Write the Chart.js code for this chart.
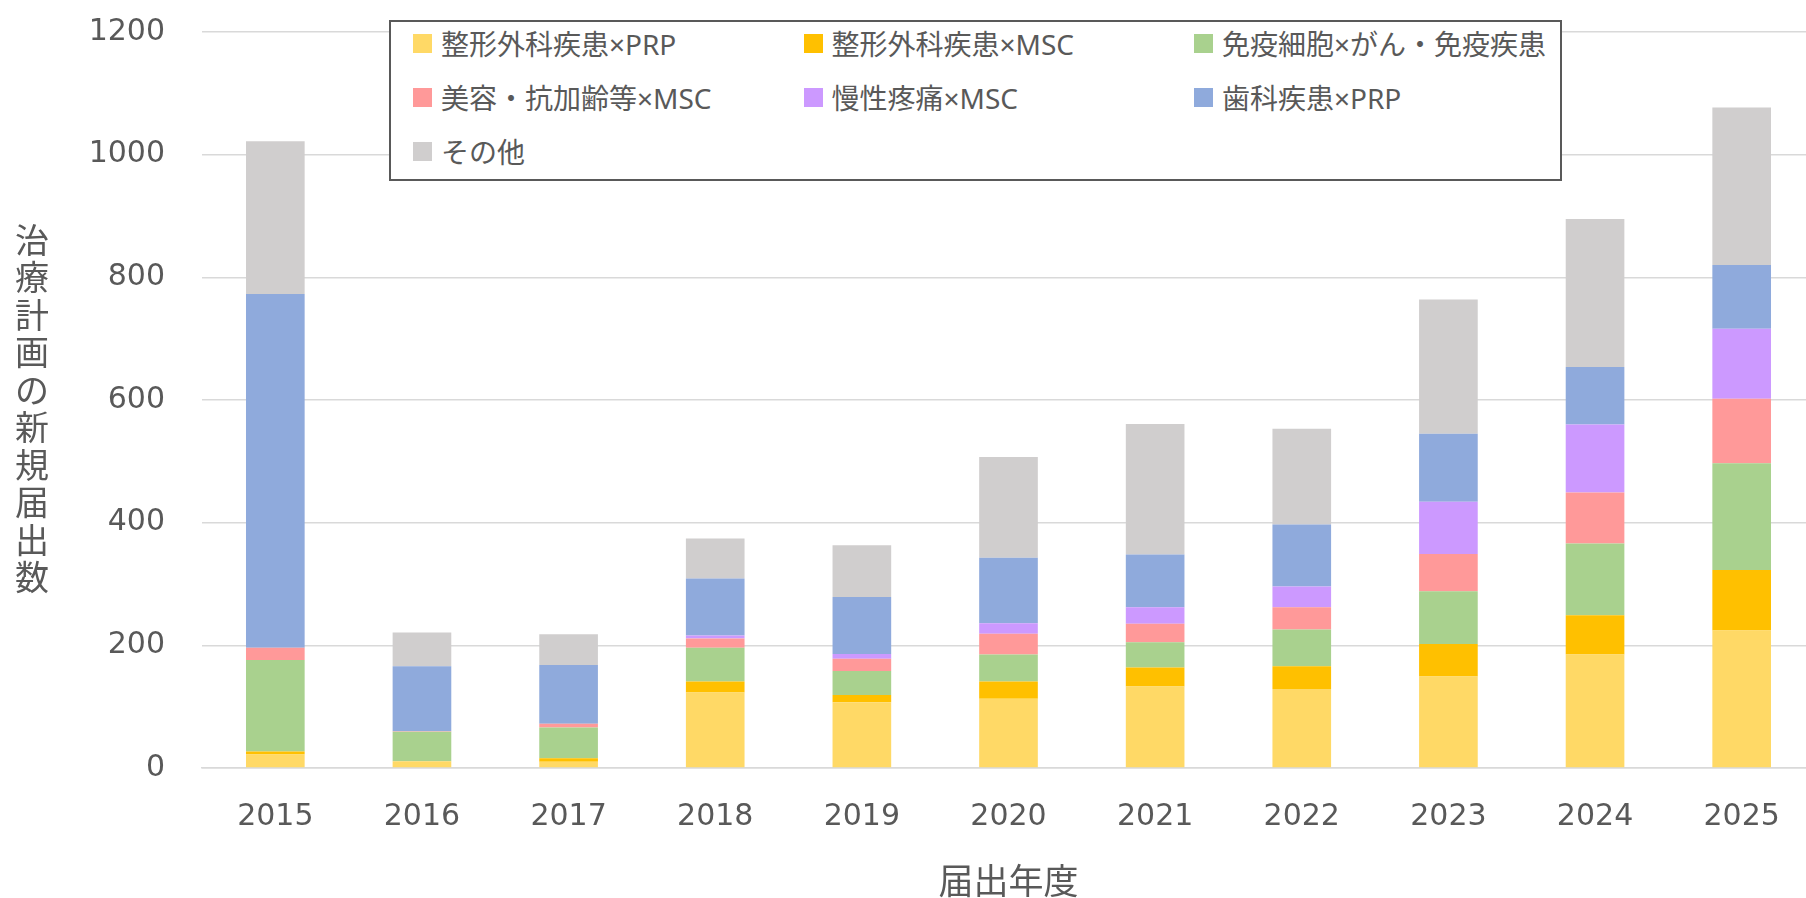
<!DOCTYPE html>
<html lang="ja">
<head>
<meta charset="utf-8">
<title>治療計画の新規届出数</title>
<script src="https://cdn.jsdelivr.net/npm/chart.js@4"></script>
<style>
    html, body { margin: 0; padding: 0; background: #fff; overflow: hidden; }
    #wrap { position: relative; width: 1815px; height: 898px; }
    #legend {
        position: absolute; left: 389px; top: 20px; width: 1169px; height: 157px;
        border: 2px solid #595959; background: #fff;
        font-family: "Noto Sans", "Noto Sans CJK JP", sans-serif; font-size: 28px; color: #595959;
    }
    #legend .item { position: absolute; display: flex; align-items: center; height: 38px; white-space: nowrap; }
    #legend .box { width: 19px; height: 19px; margin-right: 9px; flex: none; }
</style>
</head>
<body>
<div id="wrap">
    <canvas id="chart"></canvas>
    <div id="legend"></div>
</div>
<script>
// 届出年度
const years = ["2015", "2016", "2017", "2018", "2019", "2020", "2021", "2022", "2023", "2024", "2025"];

// series, bottom to top of each stack
const orthoPrp = [22, 11, 10, 123, 107, 113, 133, 129, 149, 185, 224];
const orthoMsc = [5, 0, 6, 18, 12, 28, 31, 37, 53, 64, 99];
const immune = [149, 48, 50, 55, 39, 44, 41, 60, 86, 117, 174];
const beauty = [20, 1, 6, 15, 20, 34, 30, 36, 61, 83, 105];
const pain = [0, 0, 0, 5, 8, 17, 27, 34, 85, 111, 114];
const dental = [577, 106, 96, 93, 93, 107, 86, 101, 111, 94, 104];
const other = [249, 55, 50, 65, 84, 164, 213, 156, 219, 241, 257];

const yTicks = [0, 200, 400, 600, 800, 1000, 1200];

const series = [
    { label: "整形外科疾患×PRP", data: orthoPrp, color: "#FFD966" },
    { label: "整形外科疾患×MSC", data: orthoMsc, color: "#FFC000" },
    { label: "免疫細胞×がん・免疫疾患", data: immune, color: "#A9D18E" },
    { label: "美容・抗加齢等×MSC", data: beauty, color: "#FF9999" },
    { label: "慢性疼痛×MSC", data: pain, color: "#CC99FF" },
    { label: "歯科疾患×PRP", data: dental, color: "#8FAADC" },
    { label: "その他", data: other, color: "#D0CECE" },
];

const TEXT = "#595959";
const GRID = "#D9D9D9";
const yTitle = "治療計画の新規届出数";

// vertical (stacked, upright) y-axis title
const yTitlePlugin = {
    id: "yTitle",
    afterDraw(chart) {
        const ctx = chart.ctx;
        ctx.save();
        ctx.fillStyle = TEXT;
        ctx.font = '34px "Noto Sans CJK JP"';
        ctx.textAlign = "center";
        ctx.textBaseline = "middle";
        [...yTitle].forEach((ch, i) => ctx.fillText(ch, 32, 240 + i * 37.5));
        ctx.restore();
    },
};

const chart = new Chart(document.getElementById("chart"), {
    type: "bar",
    data: {
        labels: years,
        datasets: series.map(s => ({
            label: s.label,
            data: s.data,
            backgroundColor: s.color,
            borderWidth: 0,
            barPercentage: 0.4,
            categoryPercentage: 1,
        })),
    },
    options: {
        responsive: true,
        maintainAspectRatio: false,
        animation: false,
        layout: { padding: { top: 32, right: 0, bottom: 0, left: 0 } },
        plugins: {
            legend: { display: false },
            tooltip: { enabled: false },
        },
        scales: {
            x: {
                stacked: true,
                grid: { display: false },
                border: { display: true, color: GRID, width: 1.5 },
                ticks: { color: TEXT, font: { family: "DejaVu Sans", size: 30 }, padding: 23 },
                title: {
                    display: true, text: "届出年度", color: TEXT,
                    font: { family: "Noto Sans CJK JP", size: 35, lineHeight: 1 },
                    padding: { top: 0, bottom: 0 },
                },
                afterFit(scale) { scale.height = 130; },
            },
            y: {
                stacked: true,
                min: yTicks[0],
                max: yTicks[yTicks.length - 1],
                afterBuildTicks(scale) { scale.ticks = yTicks.map(v => ({ value: v })); },
                grid: { color: GRID, lineWidth: 1.5, drawTicks: false },
                border: { display: false },
                ticks: {
                    color: TEXT, font: { family: "DejaVu Sans", size: 30 }, padding: 37,
                    callback: v => String(v),
                },
                // fixed axis width; tick padding should not push the plot down
                afterFit(scale) {
                    scale.width = 202;
                    scale.paddingTop = 0;
                    scale.paddingBottom = 0;
                },
            },
        },
    },
    plugins: [yTitlePlugin],
});

// html legend, three columns, filled row by row
const legendEl = document.getElementById("legend");
chart.data.datasets.forEach((ds, i) => {
    const item = document.createElement("div");
    item.className = "item";
    item.style.left = (22 + (i % 3) * 390.5) + "px";
    item.style.top = (2 + Math.floor(i / 3) * 54) + "px";
    const box = document.createElement("span");
    box.className = "box";
    box.style.background = ds.backgroundColor;
    const txt = document.createElement("span");
    txt.textContent = ds.label;
    item.appendChild(box);
    item.appendChild(txt);
    legendEl.appendChild(item);
});
</script>
</body>
</html>
